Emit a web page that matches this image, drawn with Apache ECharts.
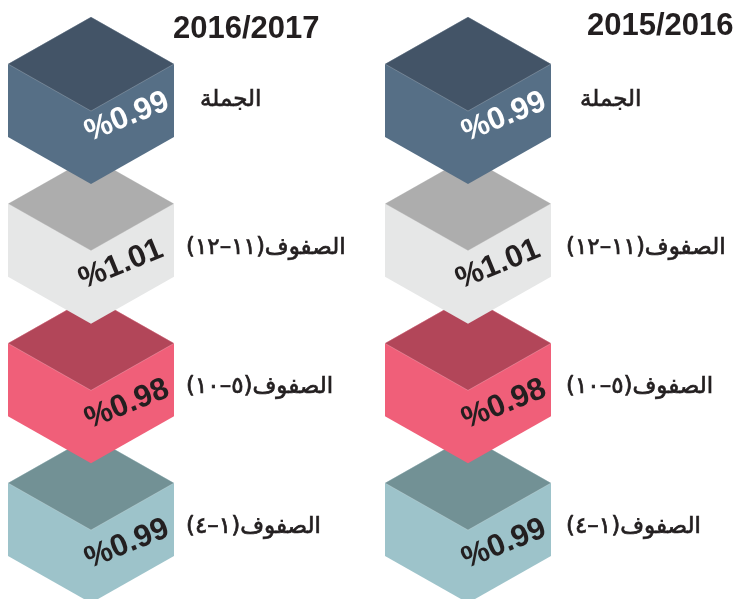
<!DOCTYPE html>
<html>
<head>
  <meta charset="utf-8">
  <title>cubes</title>
  <style>
    html, body {
      margin: 0;
      padding: 0;
      background: #fff;
    }

    #chart {
      width: 737px;
      height: 599px;
    }
  </style>
</head>
<body>
  <div id="chart"></div>
</body>
<script src="https://cdn.jsdelivr.net/npm/echarts@6/dist/echarts.min.js"></script>
<script>
  // years (columns) and groups (rows)
  var years = ['2016/2017', '2015/2016'];
  var groups = ['الجملة', 'الصفوف(١١–١٢)', 'الصفوف(٥–١٠)', 'الصفوف(١–٤)'];
  var values_2016_2017 = [0.99, 1.01, 0.98, 0.99];
  var values_2015_2016 = [0.99, 1.01, 0.98, 0.99];

  // cube colours per row: top face / front faces
  var topColors = ['#435467', '#adadad', '#b24659', '#729195'];
  var faceColors = ['#566f86', '#e6e7e7', '#f05f79', '#9dc3ca'];
  var ink = '#231f20';

  var chart = echarts.init(document.getElementById('chart'));

  function renderCube(params, api) {
    var row = api.value(1);
    var v = api.value(2);
    var p = api.coord([api.value(0), row]);
    var cx = p[0], cy = p[1];
    var w = 83, h = 47, side = 73;
    var z = 10 - row;
    var hex = [[cx, cy - h], [cx + w, cy], [cx + w, cy + side], [cx, cy + side + h],
      [cx - w, cy + side], [cx - w, cy]];
    var top = [[cx, cy - h], [cx + w, cy], [cx, cy + h], [cx - w, cy]];
    var labX = cx + (api.value(0) === 0 ? 95 : 98) + (row === 0 ? 14 : 0);
    var labY = cy + (row === 0 ? 36 : 44);
    return {
      type: 'group',
      children: [{
        type: 'polygon',
        z2: z,
        shape: { points: hex },
        style: { fill: faceColors[row] }
      }, {
        type: 'polygon',
        z2: z + 0.1,
        shape: { points: top },
        style: { fill: topColors[row], stroke: 'rgba(255,255,255,0.35)', lineWidth: 0.6 }
      }, {
        type: 'text',
        z2: z + 0.2,
        x: cx + (row === 1 ? 30 : 36),
        y: cy + (row === 0 ? 53 : 61),
        rotation: 22 * Math.PI / 180,
        style: {
          text: '%' + v.toFixed(2),
          fill: row === 0 ? '#ffffff' : ink,
          font: 'bold 31px "Liberation Sans", Arial, sans-serif',
          align: 'center',
          verticalAlign: 'middle'
        }
      }, {
        type: 'text',
        z2: 20,
        x: labX,
        y: labY,
        style: {
          text: '\u200F' + groups[row] + '\u200F',
          fill: ink,
          stroke: ink,
          lineWidth: 0.7,
          font: '23px "DejaVu Sans", sans-serif',
          align: 'left',
          verticalAlign: 'middle'
        }
      }]
    };
  }

  function toData(col, values) {
    return values.map(function (v, i) {
      return [col, i, v];
    });
  }

  var option = {
    animation: false,
    title: [{
      text: years[0],
      left: 173,
      top: 14,
      padding: 0,
      textStyle: { fontSize: 31, fontWeight: 'bold', color: ink, fontFamily: 'Liberation Sans' }
    }, {
      text: years[1],
      left: 587,
      top: 11,
      padding: 0,
      textStyle: { fontSize: 31, fontWeight: 'bold', color: ink, fontFamily: 'Liberation Sans' }
    }],
    grid: { left: 91, right: 269, top: 64, bottom: 116 },
    xAxis: { type: 'category', data: years, boundaryGap: false, show: false },
    yAxis: { type: 'category', data: groups, boundaryGap: false, inverse: true, show: false },
    series: [{
      type: 'custom',
      name: years[0],
      renderItem: renderCube,
      encode: { x: 0, y: 1 },
      data: toData(0, values_2016_2017)
    }, {
      type: 'custom',
      name: years[1],
      renderItem: renderCube,
      encode: { x: 0, y: 1 },
      data: toData(1, values_2015_2016)
    }]
  };
  chart.setOption(option);
</script>
</html>
